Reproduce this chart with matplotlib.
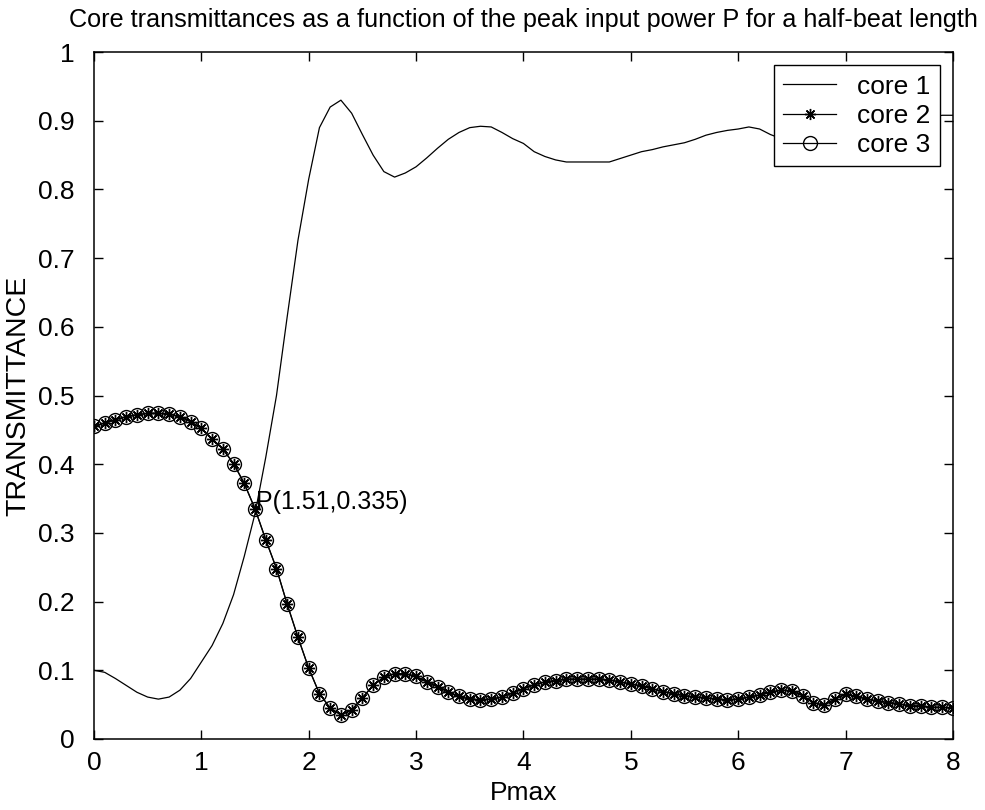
import numpy as np
import matplotlib
matplotlib.use('Agg')
import matplotlib.pyplot as plt

plt.rcParams['font.family'] = ['Liberation Sans', 'DejaVu Sans']

# Pmax sample points (step 0.1 from 0 to 8)
pmax = np.round(np.arange(0, 8.01, 0.1), 2)

core1 = [0.100, 0.097, 0.088, 0.078, 0.068, 0.061, 0.058, 0.061, 0.071, 0.088,
         0.112, 0.136, 0.168, 0.210, 0.266, 0.328, 0.410, 0.500, 0.615, 0.726,
         0.815, 0.890, 0.920, 0.930, 0.911, 0.880, 0.850, 0.826, 0.818, 0.824,
         0.833, 0.846, 0.860, 0.873, 0.883, 0.890, 0.892, 0.891, 0.883, 0.874,
         0.867, 0.855, 0.848, 0.843, 0.840, 0.840, 0.840, 0.840, 0.840, 0.845,
         0.850, 0.855, 0.858, 0.862, 0.865, 0.868, 0.873, 0.879, 0.883, 0.886,
         0.888, 0.891, 0.888, 0.880, 0.874, 0.870, 0.873, 0.880, 0.887, 0.893,
         0.897, 0.899, 0.900, 0.898, 0.895, 0.894, 0.897, 0.901, 0.905, 0.908,
         0.908]

# cores 2 and 3 coincide
core2 = [0.455, 0.460, 0.465, 0.469, 0.472, 0.474, 0.474, 0.473, 0.469, 0.462,
         0.452, 0.437, 0.422, 0.401, 0.372, 0.335, 0.290, 0.248, 0.196, 0.148,
         0.103, 0.066, 0.045, 0.035, 0.042, 0.060, 0.078, 0.090, 0.095, 0.095,
         0.091, 0.083, 0.076, 0.068, 0.062, 0.058, 0.057, 0.058, 0.061, 0.067,
         0.073, 0.079, 0.083, 0.085, 0.087, 0.087, 0.087, 0.087, 0.086, 0.083,
         0.080, 0.077, 0.073, 0.069, 0.066, 0.063, 0.061, 0.060, 0.058, 0.057,
         0.058, 0.061, 0.064, 0.068, 0.071, 0.070, 0.063, 0.053, 0.049, 0.058,
         0.065, 0.062, 0.058, 0.055, 0.053, 0.051, 0.048, 0.048, 0.046, 0.046,
         0.045]
core3 = list(core2)

xticks = [0, 1, 2, 3, 4, 5, 6, 7, 8]
yticks = [0, 0.1, 0.2, 0.3, 0.4, 0.5, 0.6, 0.7, 0.8, 0.9, 1]
ytick_labels = ['0', '0.1', '0.2', '0.3', '0.4', '0.5', '0.6', '0.7', '0.8', '0.9', '1']

fig = plt.figure(figsize=(9.85, 8.1), dpi=100)
ax = fig.add_axes([0.0954, 0.0877, 0.872, 0.848])

ax.plot(pmax, core1, color='black', lw=0.9, label='core 1')
ax.plot(pmax, core2, color='black', lw=0.9, marker=(8, 2, 0), ms=8,
        mew=1.0, label='core 2')
ax.plot(pmax, core3, color='black', lw=0.9, marker='o', ms=10,
        mfc='none', mew=1.0, label='core 3')

ax.text(1.51, 0.335, 'P(1.51,0.335)', fontsize=18, va='baseline', ha='left')

ax.set_xlim(0, 8)
ax.set_ylim(0, 1)
ax.set_xticks(xticks)
ax.set_yticks(yticks)
ax.set_yticklabels(ytick_labels)
ax.tick_params(direction='in', top=True, right=True, length=6.5, width=1,
               labelsize=19)
ax.tick_params(axis='x', pad=9)
ax.tick_params(axis='y', pad=14)
for s in ax.spines.values():
    s.set_linewidth(1.1)

ax.set_xlabel('Pmax', fontsize=19, labelpad=4)
ax.set_ylabel('TRANSMITTANCE', fontsize=20.5, labelpad=5)
ax.set_title('Core transmittances as a function of the peak input power P for a half-beat length',
             fontsize=18.2, pad=18)

leg = ax.legend(loc='upper right', fontsize=19, handlelength=2.0, fancybox=False,
                edgecolor='black', framealpha=1, borderaxespad=0.5,
                labelspacing=0.2, borderpad=0.35, handletextpad=0.8)
leg.get_frame().set_linewidth(1.0)

fig.savefig('out.png', dpi=100)
